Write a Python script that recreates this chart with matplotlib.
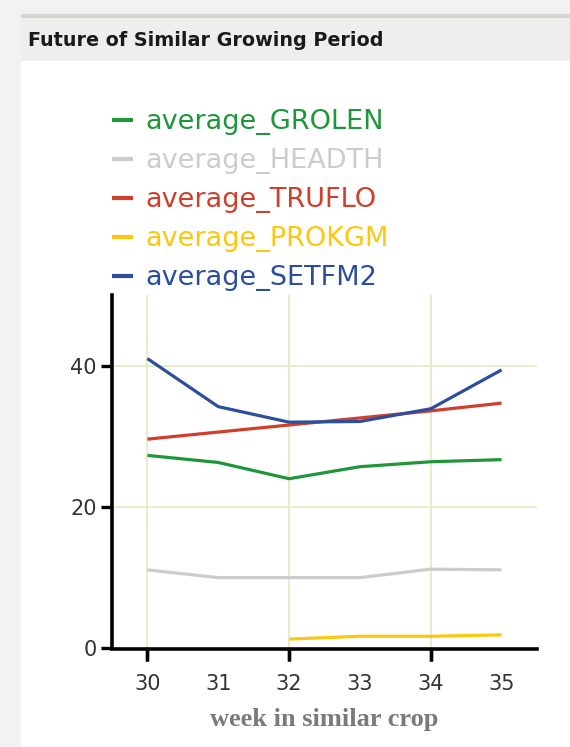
import numpy as np
import matplotlib
matplotlib.use("Agg")
import matplotlib.pyplot as plt
from matplotlib.patches import Rectangle

weeks = [30, 31, 32, 33, 34, 35]
grolen = [27.3, 26.3, 24.0, 25.7, 26.4, 26.7]
headth = [11.1, 10.0, 10.0, 10.0, 11.2, 11.1]
truflo = [29.6, 30.6, 31.6, 32.6, 33.6, 34.7]
prokgm = [np.nan, np.nan, 1.3, 1.7, 1.7, 1.9]
setfm2 = [41.0, 34.2, 32.0, 32.1, 33.9, 39.4]

series_names = ["average_GROLEN", "average_HEADTH", "average_TRUFLO",
                "average_PROKGM", "average_SETFM2"]
series_vals = [grolen, headth, truflo, prokgm, setfm2]
series_colors = ["#20963a", "#cccccc", "#cf3f2c", "#fdc70e", "#2b4f9d"]

xticks = [30, 31, 32, 33, 34, 35]
yticks = [0, 20, 40]
title = "Future of Similar Growing Period"
xlabel = "week in similar crop"

W, H = 570, 747
fig = plt.figure(figsize=(W / 100, H / 100), dpi=100)
fig.patch.set_facecolor("white")

def fx(px):
    return px / W

def fy(py):
    return 1 - py / H

# background chrome
fig.patches.append(Rectangle((0, fy(14)), 1, 1 - fy(14), transform=fig.transFigure,
                             facecolor="#f3f2f0", edgecolor="none", zorder=0))
fig.patches.append(Rectangle((0, 0), fx(21), 1, transform=fig.transFigure,
                             facecolor="#f3f2f0", edgecolor="none", zorder=0))
fig.patches.append(Rectangle((fx(21), fy(18)), 1, fy(14) - fy(18), transform=fig.transFigure,
                             facecolor="#d6d6d0", edgecolor="none", zorder=0))
fig.patches.append(Rectangle((fx(21), fy(61)), 1, fy(18) - fy(61), transform=fig.transFigure,
                             facecolor="#eeeeee", edgecolor="none", zorder=0))
fig.text(fx(28), fy(41), title, fontsize=13.8, fontweight="bold",
         family="DejaVu Sans", color="#1a1a1a", va="center", ha="left")

ax = fig.add_axes([fx(112), fy(649), fx(537) - fx(112), fy(295) - fy(649)])
ax.set_facecolor("white")
handles = []
for name, vals, col in zip(series_names, series_vals, series_colors):
    ln, = ax.plot(weeks, vals, color=col, lw=2.3, label=name, solid_capstyle="butt")
    handles.append(ln)

ax.set_xlim(29.5, 35.5)
ax.set_ylim(-0.1, 50)
ax.set_xticks(xticks)
ax.set_yticks(yticks)
for x in [30, 32, 34]:
    ax.axvline(x, color="#e3eabd", lw=1.2, zorder=0)
for y in [20, 40]:
    ax.axhline(y, color="#e3eabd", lw=1.2, zorder=0)

for s in ["top", "right"]:
    ax.spines[s].set_visible(False)
for s in ["left", "bottom"]:
    ax.spines[s].set_linewidth(2.6)
    ax.spines[s].set_color("black")
ax.spines["left"].set_bounds(0, 50)

ax.tick_params(axis="y", length=8, width=2.4, pad=3, labelsize=15, labelcolor="#333333")
ax.tick_params(axis="x", length=0, pad=18, labelsize=15, labelcolor="#333333")
for lab in ax.get_xticklabels() + ax.get_yticklabels():
    lab.set_family("DejaVu Sans")
# x tick marks only at even weeks
for x in [30, 32, 34]:
    ax.plot([x, x], [0, 0], marker=3, markersize=9, mew=2.4, color="black",
            clip_on=False, zorder=5)

ax.set_xlabel(xlabel, family="Liberation Serif", fontweight="bold", fontsize=19,
              color="#7a7a7a", labelpad=10)

leg = fig.legend(handles=handles, loc="upper left", bbox_to_anchor=(fx(112), fy(109)),
                 frameon=False, fontsize=19.5, handlelength=0.78, handletextpad=0.44,
                 labelspacing=0.48, borderaxespad=0, borderpad=0)
for txt, col in zip(leg.get_texts(), series_colors):
    txt.set_color(col)
    txt.set_family("DejaVu Sans")
for lh in leg.get_lines():
    lh.set_linewidth(3)

fig.savefig("out.png", dpi=100, facecolor=fig.get_facecolor())
